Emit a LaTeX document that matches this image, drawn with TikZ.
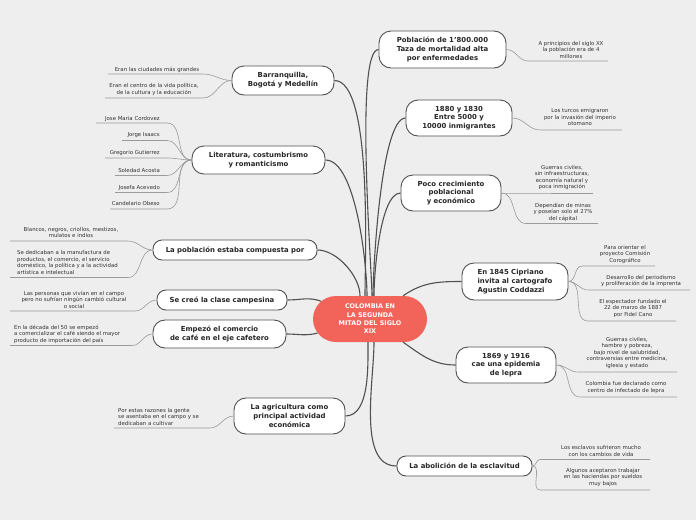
\documentclass[tikz,border=0pt]{standalone}
\usepackage{fontspec}
\setmainfont{DejaVu Sans}
\usetikzlibrary{shapes.misc}
\definecolor{bgc}{HTML}{EEEEEE}
\definecolor{mainc}{HTML}{505050}
\definecolor{leafc}{HTML}{9A9A9A}
\definecolor{redc}{HTML}{F2635A}
\definecolor{txtc}{HTML}{333333}
\begin{document}
\begin{tikzpicture}[x=1pt,y=-1pt,
  mainbox/.style={draw=mainc, line width=0.9pt, fill=white, align=center, inner sep=0pt,
    font=\bfseries\fontsize{6.9}{8.8}\selectfont, text=black!85},
  tallbox/.style={mainbox, rounded corners=12pt},
  flatbox/.style={mainbox, rounded corners=9pt},
  leaf/.style={font=\fontsize{5.4}{6.5}\selectfont, inner sep=0pt, text=txtc},
  conn/.style={draw=mainc, line width=1.1pt},
  lline/.style={draw=leafc, line width=0.6pt}]
\fill[bgc] (0,0) rectangle (696,520);
\useasboundingbox (0,0) rectangle (696,520);

% center
\node[rounded rectangle, fill=redc, minimum width=114pt, minimum height=46pt, inner sep=0pt,
  align=center, text=white, font=\bfseries\fontsize{6.4}{8.4}\selectfont] (c) at (370,319)
  {COLOMBIA EN\\LA SEGUNDA\\MITAD DEL SIGLO\\XIX};

% main nodes
\node[tallbox, minimum width=102pt, minimum height=29pt] (bar) at (283,80.5) {Barranquilla,\\Bogotá y Medellín};
\node[tallbox, minimum width=133pt, minimum height=28pt] (lit) at (258.5,160) {Literatura, costumbrismo\\y romanticismo};
\node[flatbox, minimum width=164pt, minimum height=20pt] (pob) at (235,250) {La población estaba compuesta por};
\node[flatbox, minimum width=130pt, minimum height=20pt] (cam) at (222,300) {Se creó la clase campesina};
\node[tallbox, minimum width=133pt, minimum height=28pt] (caf) at (219.5,334) {Empezó el comercio\\de café en el eje cafetero};
\node[tallbox, minimum width=111pt, minimum height=36pt] (agr) at (289.5,416) {La agricultura como\\principal actividad\\económica};
\node[tallbox, minimum width=127pt, minimum height=37pt] (p18) at (442.5,49.5) {Población de 1'800.000\\Taza de mortalidad alta\\por enfermedades};
\node[tallbox, minimum width=106pt, minimum height=36pt] (inm) at (459,118) {1880 y 1830\\Entre 5000 y\\10000 inmigrantes};
\node[tallbox, minimum width=100pt, minimum height=36pt] (poc) at (451,193) {Poco crecimiento\\poblacional\\y económico};
\node[tallbox, minimum width=106pt, minimum height=37pt, align=left] (cod) at (515,281.5) {En 1845 Cipriano\\invita al cartografo\\Agustin Coddazzi};
\node[tallbox, minimum width=100pt, minimum height=36pt] (lep) at (506,365) {1869 y 1916\\cae una epidemia\\de lepra};
\node[flatbox, minimum width=135pt, minimum height=20pt] (abo) at (464.5,466) {La abolición de la esclavitud};

% main connectors
\draw[conn] (bar.east) to[out=0,in=90,looseness=0.45] ([xshift=-5pt]c.north);
\draw[conn] (lit.east) to[out=0,in=90,looseness=0.55] ([xshift=-3pt]c.north);
\draw[conn] (pob.east) to[out=0,in=90,looseness=0.8] ([xshift=-10pt]c.north);
\draw[conn] (cam.east) to[out=0,in=160] (c.160);
\draw[conn] (caf.east) to[out=0,in=195] (c.195);
\draw[conn] (agr.east) to[out=0,in=-90,looseness=0.8] ([xshift=-2pt]c.south);
\draw[conn] (abo.west) to[out=180,in=-90,looseness=0.8] ([xshift=4pt]c.south);
\draw[conn] (p18.west) to[out=180,in=90,looseness=0.25] ([xshift=2pt]c.north);
\draw[conn] (inm.west) to[out=180,in=90,looseness=0.35] ([xshift=3pt]c.north);
\draw[conn] (poc.west) to[out=180,in=90,looseness=0.5] ([xshift=4pt]c.north);
\draw[conn] (cod.west) to[out=180,in=35] (c.35);
\draw[conn] (lep.west) to[out=180,in=-35] (c.-35);

% ---- left leaves
\node[leaf] (b1) at (157,69.5) {Eran las ciudades más grandes};
\coordinate (b1l) at (108,74); \coordinate (b1r) at (203,74);
\draw[lline] (b1l) -- (b1r) to[out=0,in=180] (bar.west);
\node[leaf, align=center] (b2) at (154,89.5) {Eran el centro de la vida política,\\de la cultura y la educación};
\coordinate (b2l) at (105,98); \coordinate (b2r) at (203,98);
\draw[lline] (b2l) -- (b2r) to[out=0,in=180] (bar.west);

\node[leaf, anchor=east] (l1) at (160,118.5) {Jose Maria Cordovez};
\coordinate (l1l) at (96,123); \coordinate (l1r) at (167,123);
\node[leaf, anchor=east] (l2) at (160,135.5) {Jorge Isaacs};
\coordinate (l2l) at (122,140.5); \coordinate (l2r) at (167,140.5);
\node[leaf, anchor=east] (l3) at (160,153) {Gregorio Gutierrez};
\coordinate (l3l) at (105,158); \coordinate (l3r) at (167,158);
\node[leaf, anchor=east] (l4) at (160,170) {Soledad Acosta};
\coordinate (l4l) at (115,175.5); \coordinate (l4r) at (167,175.5);
\node[leaf, anchor=east] (l5) at (160,187.5) {Josefa Acevedo};
\coordinate (l5l) at (115,192.5); \coordinate (l5r) at (167,192.5);
\node[leaf, anchor=east] (l6) at (160,203.5) {Candelario Obeso};
\coordinate (l6l) at (110,209); \coordinate (l6r) at (167,209);
\foreach \k in {1,...,6}{
  \draw[lline] (l\k l) -- (l\k r) to[out=0,in=180] (lit.west);
}

\node[leaf, align=center] (q1) at (71,232.5) {Blancos, negros, criollos, mestizos,\\mulatos e indios};
\coordinate (q1l) at (10,241); \coordinate (q1r) at (128,241);
\draw[lline] (q1l) -- (q1r) to[out=0,in=180] (pob.west);
\node[leaf, align=left, anchor=west] (q2) at (17,262.5) {Se dedicaban a la manufactura de\\productos, el comercio, el servicio\\doméstico, la política y a la actividad\\artística e intelectual};
\coordinate (q2l) at (10,277.5); \coordinate (q2r) at (128,277.5);
\draw[lline] (q2l) -- (q2r) to[out=0,in=180] (pob.west);

\node[leaf, align=center] (s1) at (74,299.5) {Las personas que vivían en el campo\\pero no sufrían ningún cambió cultural\\o social};
\coordinate (s1l) at (10,311); \coordinate (s1r) at (135,311);
\draw[lline] (s1l) -- (s1r) to[out=0,in=180] (cam.west);

\node[leaf, align=left, anchor=west] (f1) at (14,334) {En la década del 50 se empezó\\a comercializar el café siendo el mayor\\producto de importación del país};
\coordinate (f1l) at (10,345.5); \coordinate (f1r) at (132,345.5);
\draw[lline] (f1l) -- (f1r) to[out=0,in=180] (caf.west);

\node[leaf, align=left, anchor=west] (g1) at (118,416.5) {Por estas razones la gente\\se asentaba en el campo y se\\dedicaban a cultivar};
\coordinate (g1l) at (114,428); \coordinate (g1r) at (210,428);
\draw[lline] (g1l) -- (g1r) to[out=0,in=180] (agr.west);

% ---- right leaves
\node[leaf, align=center] (r1) at (571,49.5) {A principios del siglo XX\\la población era de 4\\millones};
\coordinate (r1l) at (528,61); \coordinate (r1r) at (608,61);
\draw[lline] (p18.east) to[out=0,in=180] (r1l) -- (r1r);

\node[leaf, align=center] (t1) at (580,117) {Los turcos emigraron\\por la invasión del imperio\\otomano};
\coordinate (t1l) at (540,130); \coordinate (t1r) at (622,130);
\draw[lline] (inm.east) to[out=0,in=180] (t1l) -- (t1r);

\node[leaf, align=center] (u1) at (562,177.5) {Guerras civiles,\\sin infraestructuras,\\economía natural y\\poca inmigración};
\coordinate (u1l) at (510,193); \coordinate (u1r) at (593,193);
\draw[lline] (poc.east) to[out=0,in=180] (u1l) -- (u1r);
\node[leaf, align=center] (u2) at (563,212) {Dependían de minas\\y poseían solo el 27\%\\del cápital};
\coordinate (u2l) at (526,223.5); \coordinate (u2r) at (598,223.5);
\draw[lline] (poc.east) to[out=0,in=180] (u2l) -- (u2r);

\node[leaf, align=center] (v1) at (625,254.5) {Para orientar el\\proyecto Comisión\\Corográfico};
\coordinate (v1l) at (582,266); \coordinate (v1r) at (655,266);
\draw[lline] (cod.east) to[out=0,in=180] (v1l) -- (v1r);
\node[leaf, align=center] (v2) at (641,281) {Desarrollo del periodismo\\y proliferación de la imprenta};
\coordinate (v2l) at (588,290); \coordinate (v2r) at (690,290);
\draw[lline] (cod.east) to[out=0,in=180] (v2l) -- (v2r);
\node[leaf, align=center] (v3) at (633,308.5) {El espectador fundado el\\22 de marzo de 1887\\por Fidel Cano};
\coordinate (v3l) at (588,321); \coordinate (v3r) at (676,321);
\draw[lline] (cod.east) to[out=0,in=180] (v3l) -- (v3r);

\node[leaf, align=center] (w1) at (627,353) {Guerras civiles,\\hambre y pobreza,\\bajo nivel de salubridad,\\contraversias entre medicina,\\iglesia y estado};
\coordinate (w1l) at (578,372); \coordinate (w1r) at (677,372);
\draw[lline] (lep.east) to[out=0,in=180] (w1l) -- (w1r);
\node[leaf, align=center] (w2) at (626,387.5) {Colombia fue declarado como\\centro de infectado de lepra};
\coordinate (w2l) at (580,397); \coordinate (w2r) at (677,397);
\draw[lline] (lep.east) to[out=0,in=180] (w2l) -- (w2r);

\node[leaf, align=center] (x1) at (601,451) {Los esclavos sufrieron mucho\\con los cambios de vida};
\coordinate (x1l) at (540,459.5); \coordinate (x1r) at (650,459.5);
\draw[lline] (abo.east) to[out=0,in=180] (x1l) -- (x1r);
\node[leaf, align=center] (x2) at (603,477.5) {Algunos aceptaron trabajar\\en las haciendas por sueldos\\muy bajos};
\coordinate (x2l) at (540,490); \coordinate (x2r) at (650,490);
\draw[lline] (abo.east) to[out=0,in=180] (x2l) -- (x2r);
\end{tikzpicture}
\end{document}
